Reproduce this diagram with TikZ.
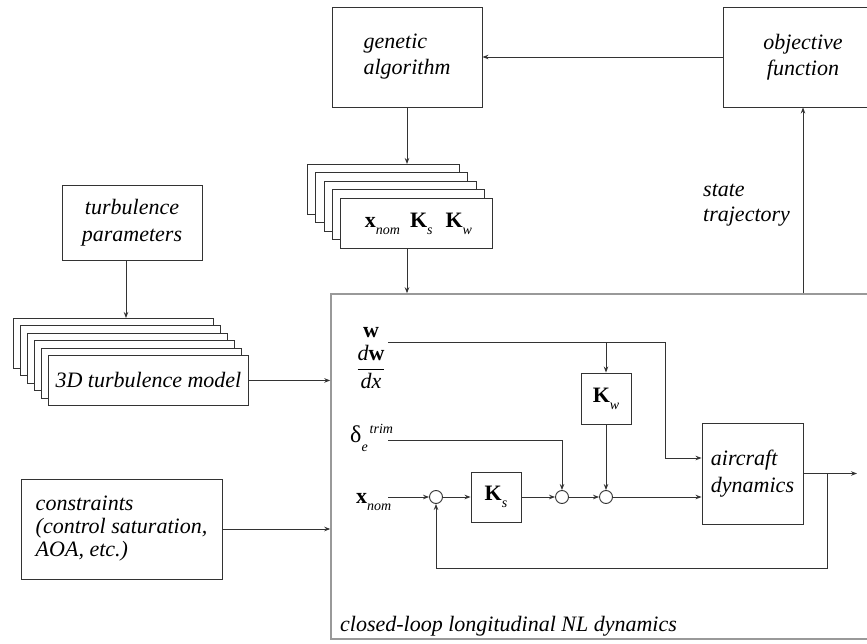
\documentclass[tikz,border=0pt]{standalone}
\usepackage{fontspec}
\setmainfont{Liberation Serif}[ItalicFont={Liberation Serif Italic}, BoldFont={Liberation Serif Bold}, BoldItalicFont={Liberation Serif Bold Italic}]
\usetikzlibrary{arrows.meta,calc}
\newcommand\mysubb[2]{\textbf{#1}\raisebox{-7pt}{\fontsize{14}{14}\selectfont\itshape #2}}
\begin{document}
\begin{tikzpicture}[x=1pt,y=-1pt,
  box/.style={draw=black!80, line width=0.9pt, fill=white, inner sep=0pt},
  conn/.style={draw=black!80, line width=0.9pt, -{Stealth[length=6pt,width=4.5pt]}},
  plain/.style={draw=black!80, line width=0.9pt},
  lbl/.style={font=\fontsize{22}{26}\selectfont\itshape, inner sep=0pt},
  math/.style={font=\fontsize{22}{26}\selectfont, inner sep=0pt},
  sumj/.style={circle, draw=black!80, line width=0.9pt, minimum size=13pt, inner sep=0pt, fill=white}
]
\useasboundingbox (0,0) rectangle (867,644);
\clip (0,0) rectangle (867,644);

% closed-loop outer box
\node[draw=black!40, line width=1.5pt, minimum width=569pt, minimum height=345pt, inner sep=0pt] (cl) at (615.5,466.5) {};
\node[lbl, anchor=base west] (cltext) at (340,631) {closed-loop longitudinal NL dynamics};

% top row
\node[box, lbl, minimum width=150pt, minimum height=100pt, align=left] (gen) at (407,57) {genetic\\algorithm};
\node[box, lbl, minimum width=160pt, minimum height=100pt, align=center] (obj) at (803,57) {objective\\function};
\draw[conn] (obj.west) -- (gen.east);
\node[lbl, anchor=west, align=left, font=\fontsize{22}{25}\selectfont\itshape] (st) at (703,205) {state\\trajectory};
\draw[conn] (obj.south |- cl.north) -- (obj.south);

% parameter stack
\foreach \i in {0,...,4}{
  \node[box, minimum width=152pt, minimum height=50pt, anchor=north west] (p\i) at ({307+8.25*\i},{164+8.5*\i}) {};
}
\node[math] (ptext) at ([xshift=2pt]p4.center) {\mysubb{x}{nom}\hspace{10pt}\mysubb{K}{s}\hspace{13pt}\mysubb{K}{w}};
\draw[conn] (gen.south) -- (gen.south |- p0.north);
\draw[conn] (gen.south |- p4.south) -- (gen.south |- cl.north);

% turbulence
\node[box, lbl, minimum width=140pt, minimum height=75pt, align=center, font=\fontsize{22}{27}\selectfont\itshape] (tp) at (132,222.5) {turbulence\\parameters};
\foreach \i in {0,...,5}{
  \node[box, minimum width=200pt, minimum height=50pt, anchor=north west] (t\i) at ({13+7*\i},{318+7.4*\i}) {};
}
\node[lbl] (ttext) at (t5.center) {3D turbulence model};
\coordinate (tpa) at (126,0);
\draw[conn] (tp.south -| tpa) -- (tpa |- t0.north);
\draw[conn] (t5.east) -- (t5.east -| cl.west);

% constraints
\node[box, lbl, minimum width=201pt, minimum height=100pt, align=left, font=\fontsize{22}{23}\selectfont\itshape] (cons) at (121.5,529) {constraints\\(control saturation,\\AOA, etc.)};
\draw[conn] (cons.east) -- (cons.east -| cl.west);

% inner signals
\node[math, anchor=base west] (wl) at (363,337) {\textbf{w}};
\node[math] (dwdx) at (371,367) {$\displaystyle\frac{\mbox{\itshape d\upshape\bfseries w}}{\mbox{\itshape dx}}$};
\node[math, anchor=base west] (dl) at (350,442) {\fontsize{24}{26}\selectfont δ\raisebox{-9pt}{\fontsize{14}{14}\selectfont\itshape e}\hspace{2pt}\raisebox{9pt}{\fontsize{14}{14}\selectfont\itshape trim}};
\node[math, anchor=base west] (xl) at (356,503) {\mysubb{x}{nom}};

\node[box, math, minimum width=50pt, minimum height=51pt] (kw) at (606,398.5) {\mysubb{K}{w}};
\node[box, math, minimum width=50pt, minimum height=50pt] (ks) at (496,497) {\mysubb{K}{s}};
\node[sumj] (s1) at (436,497) {};
\node[sumj] (s2) at (562,497) {};
\node[sumj] (s3) at (606,497) {};
\node[box, lbl, minimum width=101pt, minimum height=101pt, align=left, font=\fontsize{22}{27}\selectfont\itshape] (ac) at (752.5,473.5) {aircraft\\dynamics};

\coordinate (wst) at (388,342);
\coordinate (wx) at (665,458);
\coordinate (dst) at (388,440);
\coordinate (xst) at (388,497);
\coordinate (fb) at (827,568);
\coordinate (outp) at (857,473.5);

\draw[conn] (wst) -| (wx) -- (wx -| ac.west);
\draw[conn] (kw.north |- wst) -- (kw.north);
\draw[conn] (dst) -| (s2.north);
\draw[conn] (kw.south) -- (s3.north);
\draw[conn] (xst) -- (s1.west);
\draw[conn] (s1.east) -- (ks.west);
\draw[conn] (ks.east) -- (s2.west);
\draw[conn] (s2.east) -- (s3.west);
\draw[conn] (s3.east) -- (s3.east -| ac.west);
\draw[conn] (ac.east) -- (outp);
\draw[conn] (ac.east -| fb) -- (fb) -| (s1.south);
\end{tikzpicture}
\end{document}
